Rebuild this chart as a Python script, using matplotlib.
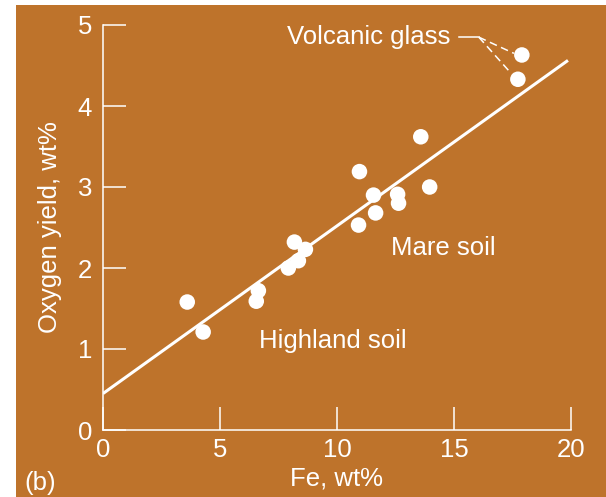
import matplotlib
matplotlib.use("Agg")
import matplotlib.pyplot as plt
from matplotlib.patches import Rectangle
import numpy as np

plt.rcParams['font.family'] = ['Liberation Sans', 'DejaVu Sans']

BG = '#BE732B'
FG = 'white'
FS = 18.5

fe = [3.60, 4.28, 6.64, 6.55, 7.92, 8.18, 8.35, 8.65, 10.92, 10.96, 11.56, 11.65,
      12.59, 12.63, 13.58, 13.96, 17.73, 17.90]
oxygen = [1.58, 1.21, 1.72, 1.59, 2.00, 2.32, 2.09, 2.23, 2.53, 3.19, 2.90, 2.68,
          2.91, 2.80, 3.62, 3.00, 4.33, 4.63]
fit_x = [0, 19.87]
fit_intercept = 0.45
fit_slope = 0.207
xticks = [0, 5, 10, 15, 20]
yticks = [0, 1, 2, 3, 4, 5]

fig = plt.figure(figsize=(6.06, 4.97), dpi=100)
fig.patch.set_facecolor('white')
fig.patches.append(Rectangle((16/606, 0), 1 - 16/606, 1 - 5/497,
                             transform=fig.transFigure, facecolor=BG,
                             edgecolor='none', zorder=-10))

ax = fig.add_axes([103/606, 1 - 430/497, (571 - 103)/606, (430 - 25)/497])
ax.set_facecolor('none')
ax.set_xlim(0, 20)
ax.set_ylim(0, 5)

fx = np.array(fit_x)
ax.plot(fx, fit_intercept + fit_slope * fx, color=FG, lw=2.2, solid_capstyle='butt', zorder=2)
ax.scatter(fe, oxygen, s=125, color=FG, edgecolors='none', zorder=3)

for s in ['top', 'right']:
    ax.spines[s].set_visible(False)
for s in ['left', 'bottom']:
    ax.spines[s].set_color(FG)
    ax.spines[s].set_linewidth(1.1)

ax.set_xticks(xticks)
ax.set_yticks(yticks)
ax.tick_params(axis='both', direction='in', length=16.5, width=1.1, color=FG,
               labelcolor=FG, labelsize=FS)
ax.tick_params(axis='y', pad=8)
ax.tick_params(axis='x', pad=6)

ax.set_xlabel('Fe, wt%', color=FG, fontsize=FS, labelpad=3)
ax.set_ylabel('Oxygen yield, wt%', color=FG, fontsize=FS, labelpad=11)

ax.text(7.88, 4.85, 'Volcanic glass', color=FG, fontsize=FS, va='center', ha='left')
ax.text(12.29, 2.25, 'Mare soil', color=FG, fontsize=FS, va='center', ha='left')
ax.text(6.68, 1.10, 'Highland soil', color=FG, fontsize=FS, va='center', ha='left')

ax.plot([15.2, 16.06], [4.85, 4.85], color=FG, lw=1.1)
ax.plot([16.06, 17.56], [4.85, 4.65], color=FG, lw=1.1, dashes=(5, 3))
ax.plot([16.06, 17.39], [4.85, 4.42], color=FG, lw=1.1, dashes=(5, 3))

fig.text(40/606, 1 - 483/497, '(b)', color=FG, fontsize=FS, ha='center', va='center')

fig.savefig('out.png', dpi=100)
